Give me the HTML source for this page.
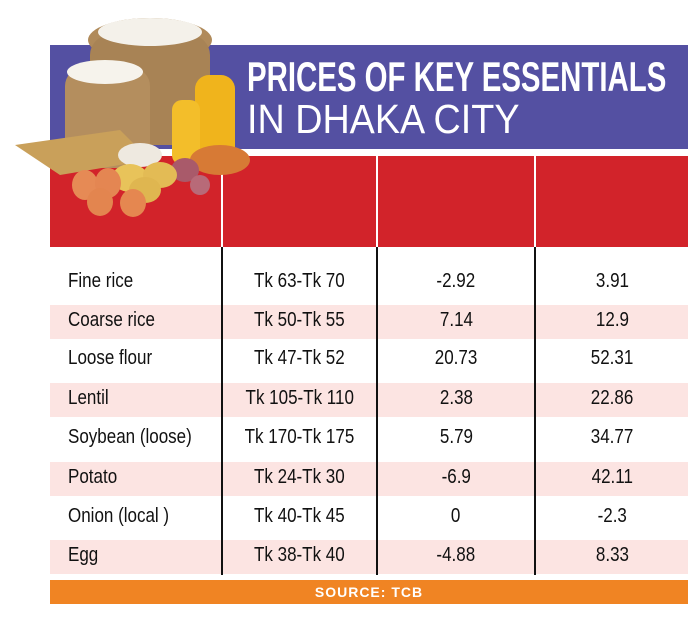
<!DOCTYPE html>
<html><head><style>
body{margin:0;background:#fff;width:688px;height:617px;overflow:hidden;position:relative;font-family:"Liberation Sans",sans-serif;}
.a{position:absolute}
.t{position:absolute;font-size:20px;color:#111;white-space:nowrap;transform:scaleX(0.85);transform-origin:left center}
.c{position:absolute;font-size:20px;color:#111;text-align:center;white-space:nowrap}
</style></head><body>
<div class="a" style="left:50px;top:45px;width:638px;height:104px;background:#5450a2"></div>
<div class="a" style="left:50px;top:156px;width:638px;height:91px;background:#d2232a"></div>
<div class="a" style="left:221px;top:156px;width:2px;height:91px;background:#fff"></div>
<div class="a" style="left:376px;top:156px;width:2px;height:91px;background:#fff"></div>
<div class="a" style="left:534px;top:156px;width:2px;height:91px;background:#fff"></div>
<div class="a" style="left:247px;top:53px;font-size:42px;font-weight:bold;color:#fff;white-space:nowrap;transform:scaleX(0.70);transform-origin:left top">PRICES OF KEY ESSENTIALS</div>
<div class="a" style="left:247px;top:96px;font-size:41px;color:#fff;white-space:nowrap;transform:scaleX(0.92);transform-origin:left top">IN DHAKA CITY</div>
<svg class="a" style="left:0;top:0" width="250" height="220">
<ellipse cx="150" cy="40" rx="62" ry="22" fill="#b08a5a"/>
<rect x="90" y="35" width="120" height="110" rx="20" fill="#a88355"/>
<ellipse cx="150" cy="32" rx="52" ry="14" fill="#f4f1ea"/>
<rect x="65" y="68" width="85" height="100" rx="18" fill="#b48e5e"/>
<ellipse cx="105" cy="72" rx="38" ry="12" fill="#f6f3ec"/>
<rect x="195" y="75" width="40" height="90" rx="14" fill="#f0b41c"/>
<rect x="172" y="100" width="28" height="65" rx="10" fill="#f3be2a"/>
<path d="M15 145 L120 130 L150 160 L60 175 Z" fill="#c9a05a"/>
<ellipse cx="220" cy="160" rx="30" ry="15" fill="#d77a35"/>
<ellipse cx="140" cy="155" rx="22" ry="12" fill="#eee9e0"/>
<ellipse cx="185" cy="170" rx="14" ry="12" fill="#a95a6a"/>
<ellipse cx="200" cy="185" rx="10" ry="10" fill="#b86a78"/>
<ellipse cx="130" cy="178" rx="18" ry="14" fill="#e8c35a"/>
<ellipse cx="160" cy="175" rx="17" ry="13" fill="#e3bb55"/>
<ellipse cx="145" cy="190" rx="16" ry="13" fill="#dfb650"/>
<ellipse cx="85" cy="185" rx="13" ry="15" fill="#e68a55"/>
<ellipse cx="108" cy="183" rx="13" ry="15" fill="#e48652"/>
<ellipse cx="100" cy="202" rx="13" ry="14" fill="#e3854f"/>
<ellipse cx="133" cy="203" rx="13" ry="14" fill="#e58750"/>
</svg>
<div class="a" style="left:50px;top:305px;width:638px;height:34px;background:#fce4e2"></div>
<div class="a" style="left:50px;top:383px;width:638px;height:34px;background:#fce4e2"></div>
<div class="a" style="left:50px;top:462px;width:638px;height:34px;background:#fce4e2"></div>
<div class="a" style="left:50px;top:540px;width:638px;height:34px;background:#fce4e2"></div>
<div class="a" style="left:221px;top:247px;width:2px;height:328px;background:#111"></div>
<div class="a" style="left:376px;top:247px;width:2px;height:328px;background:#111"></div>
<div class="a" style="left:534px;top:247px;width:2px;height:328px;background:#111"></div>
<div class="t" style="left:68px;top:270px">Fine rice</div>
<div class="t" style="left:68px;top:309px">Coarse rice</div>
<div class="t" style="left:68px;top:347px">Loose flour</div>
<div class="t" style="left:68px;top:387px">Lentil</div>
<div class="t" style="left:68px;top:426px">Soybean (loose)</div>
<div class="t" style="left:68px;top:466px">Potato</div>
<div class="t" style="left:68px;top:505px">Onion (local )</div>
<div class="t" style="left:68px;top:544px">Egg</div>
<div id="cols"></div>
<script>
var r=[["Tk 63-Tk 70","-2.92","3.91"],["Tk 50-Tk 55","7.14","12.9"],["Tk 47-Tk 52","20.73","52.31"],["Tk 105-Tk 110","2.38","22.86"],["Tk 170-Tk 175","5.79","34.77"],["Tk 24-Tk 30","-6.9","42.11"],["Tk 40-Tk 45","0","-2.3"],["Tk 38-Tk 40","-4.88","8.33"]];
var ys=[270,309,347,387,426,466,505,544],h="";
var cx=[[223,153],[378,156],[536,152]];
r.forEach(function(row,i){row.forEach(function(v,j){h+='<div class="c" style="left:'+cx[j][0]+'px;width:'+cx[j][1]+'px;top:'+ys[i]+'px"><span style="display:inline-block;transform:scaleX(0.85)">'+v+'</span></div>';});});
document.getElementById("cols").innerHTML=h;
</script>
<div class="a" style="left:50px;top:580px;width:638px;height:24px;background:#f08423;color:#fff;font-weight:bold;font-size:14px;text-align:center;line-height:24px;letter-spacing:1px">SOURCE: TCB</div>
</body></html>
